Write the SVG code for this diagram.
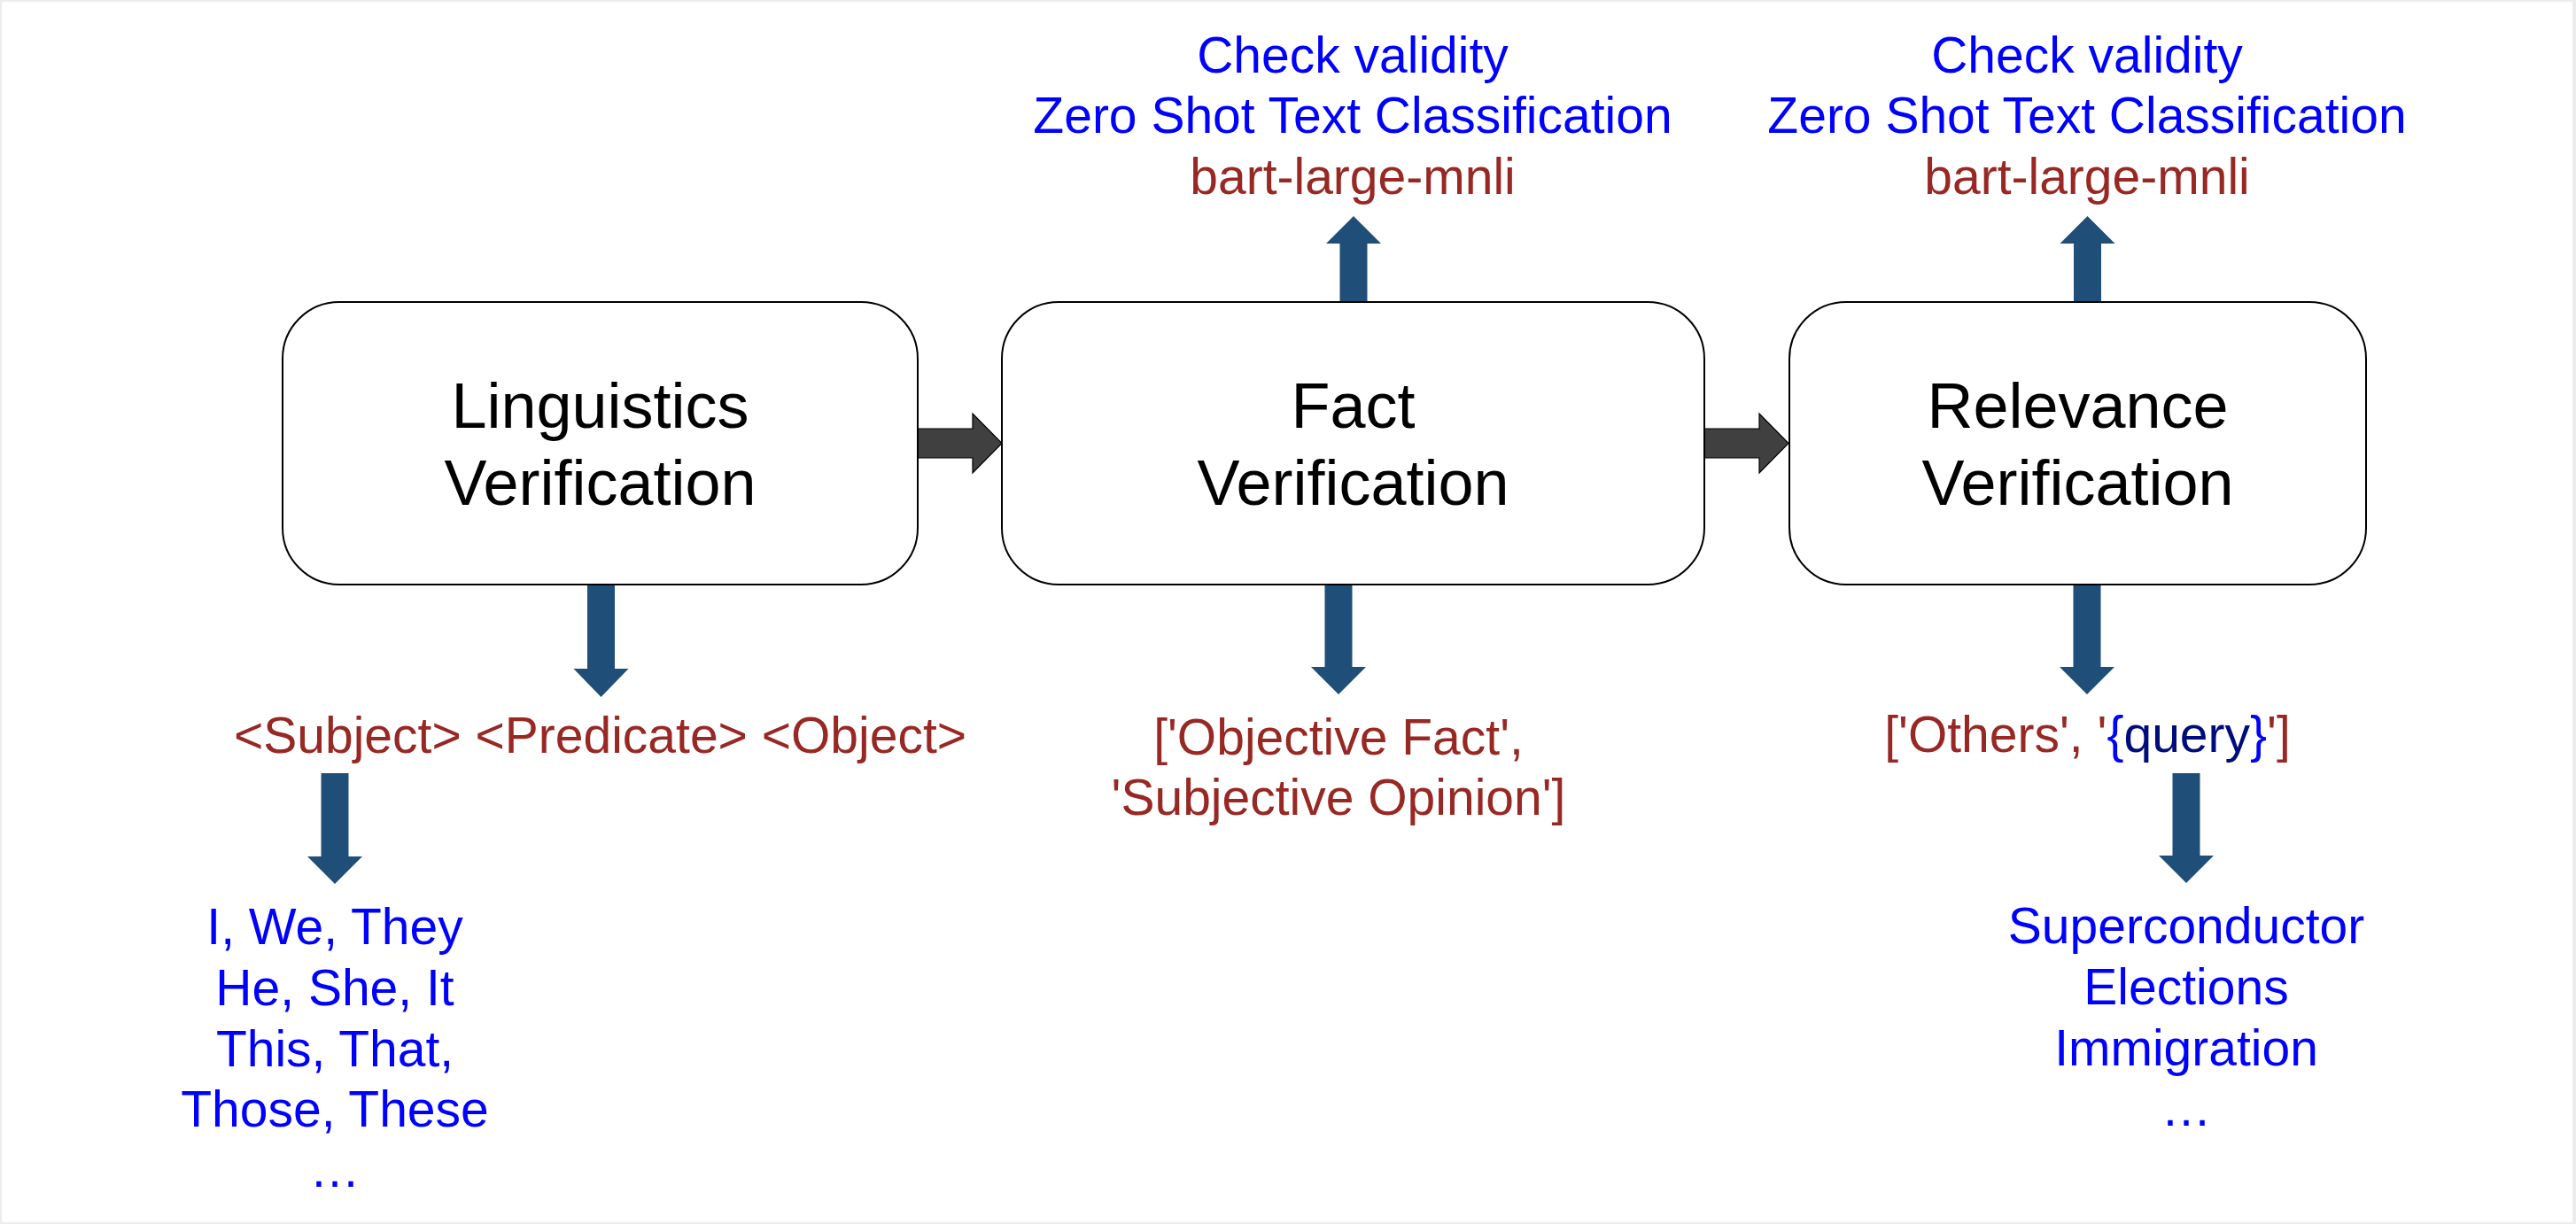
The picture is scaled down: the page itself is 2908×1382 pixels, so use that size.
<svg xmlns="http://www.w3.org/2000/svg" width="2908" height="1382" viewBox="0 0 2908 1382">
<style>
.box{fill:#ffffff;stroke:#000000;stroke-width:2}
.title{font-family:"Liberation Sans",Arial,sans-serif;font-size:72px;fill:#000000;text-anchor:middle}
.t{font-family:"Liberation Sans",Arial,sans-serif;font-size:57px;text-anchor:middle}
.blue{fill:#0000ff}
.red{fill:#982823}
.navy{fill:#000c7b}
.flow{fill:#404040;stroke:#000000;stroke-width:1.2}
.ba{fill:#1f4e79}
</style>
<rect x="0" y="0" width="2908" height="1382" fill="#ececec"/>
<rect x="2" y="2" width="2902" height="1378" fill="#ffffff"/>
<g id="connectors">
<polygon class="flow" points="1036,484 1098,484 1098,467 1131,500.5 1098,534 1098,517 1036,517"/>
<polygon class="flow" points="1924,484 1986,484 1986,467 2019,500.5 1986,534 1986,517 1924,517"/>
<polygon class="ba" points="663,660 694,660 694,755 709.5,755 678.5,787 647.5,755 663,755"/>
<polygon class="ba" points="362.5,873 393.5,873 393.5,967 409,967 378,998 347,967 362.5,967"/>
<polygon class="ba" points="1495.5,660 1526.5,660 1526.5,753 1542,753 1511,784 1480,753 1495.5,753"/>
<polygon class="ba" points="1512.5,341 1543.5,341 1543.5,275 1559,275 1528,244 1497,275 1512.5,275"/>
<polygon class="ba" points="2341,341 2372,341 2372,275 2387.5,275 2356.5,244 2325.5,275 2341,275"/>
<polygon class="ba" points="2340.5,660 2371.5,660 2371.5,753 2387,753 2356,784 2325,753 2340.5,753"/>
<polygon class="ba" points="2452.5,873 2483.5,873 2483.5,966 2499,966 2468,997 2437,966 2452.5,966"/>
</g>
<g id="node-linguistics">
<rect class="box" x="319" y="341" width="717" height="319" rx="64" ry="64"/>
<text class="title" x="677.5" y="483">Linguistics</text>
<text class="title" x="677.5" y="570">Verification</text>
</g>
<g id="node-fact">
<rect class="box" x="1131" y="341" width="793" height="319" rx="64" ry="64"/>
<text class="title" x="1527.5" y="483">Fact</text>
<text class="title" x="1527.5" y="570">Verification</text>
</g>
<g id="node-relevance">
<rect class="box" x="2020" y="341" width="651" height="319" rx="64" ry="64"/>
<text class="title" x="2345.5" y="483">Relevance</text>
<text class="title" x="2345.5" y="570">Verification</text>
</g>
<g id="fact-top-label">
<text class="t blue" x="1527" y="82">Check validity</text>
<text class="t blue" x="1527" y="150">Zero Shot Text Classification</text>
<text class="t red" x="1527" y="219">bart-large-mnli</text>
</g>
<g id="relevance-top-label">
<text class="t blue" x="2356" y="82">Check validity</text>
<text class="t blue" x="2356" y="150">Zero Shot Text Classification</text>
<text class="t red" x="2356" y="219">bart-large-mnli</text>
</g>
<g id="triple">
<text class="t red" x="677.5" y="850">&lt;Subject&gt; &lt;Predicate&gt; &lt;Object&gt;</text>
</g>
<g id="pronouns">
<text class="t blue" x="378" y="1066">I, We, They</text>
<text class="t blue" x="378" y="1135">He, She, It</text>
<text class="t blue" x="378" y="1204">This, That,</text>
<text class="t blue" x="378" y="1272">Those, These</text>
<text class="t blue" x="378" y="1340">…</text>
</g>
<g id="fact-labels">
<text class="t red" x="1511" y="852">['Objective Fact',</text>
<text class="t red" x="1511" y="920">'Subjective Opinion']</text>
</g>
<g id="relevance-labels">
<text class="t red" x="2356.5" y="849">['Others', '<tspan class="blue">{</tspan><tspan class="navy">query</tspan><tspan class="blue">}</tspan>']</text>
</g>
<g id="topics">
<text class="t blue" x="2468" y="1065">Superconductor</text>
<text class="t blue" x="2468" y="1134">Elections</text>
<text class="t blue" x="2468" y="1203">Immigration</text>
<text class="t blue" x="2468" y="1271">…</text>
</g>
</svg>
